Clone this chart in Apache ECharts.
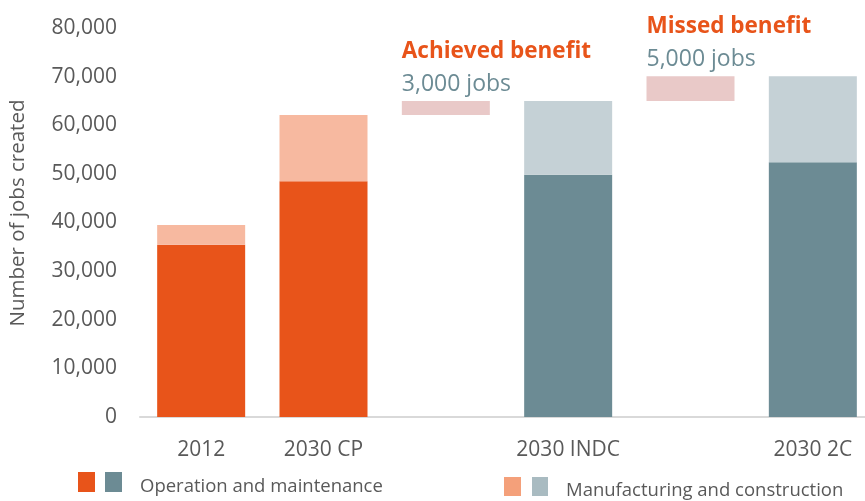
<!DOCTYPE html>
<html>
<head>
<meta charset="utf-8">
<script src="https://cdn.jsdelivr.net/npm/echarts@6/dist/echarts.min.js"></script>
<style>
  html, body { margin: 0; padding: 0; background: #fff; }
  #main { width: 865px; height: 501px; }
</style>
</head>
<body>
<div id="main"></div>
<script>
// categories (empty slots hold the benefit bars)
var categories = ['2012', '2030 CP', '', '2030 INDC', '', '2030 2C'];
// operation and maintenance jobs
var opValues = [35400, 48500, null, 49800, null, 52400];
// manufacturing and construction jobs
var mcValues = [4100, 13600, null, 15200, null, 17700];
// floating benefit bars: invisible base + visible part
var benefitBase = [null, null, 62100, null, 65000, null];
var benefitValues = [null, null, 2900, null, 5100, null];
var benefitTitles = ['', '', 'Achieved benefit', '', 'Missed benefit', ''];
var benefitJobs = ['', '', '3,000 jobs', '', '5,000 jobs', ''];
var yTicks = [0, 10000, 20000, 30000, 40000, 50000, 60000, 70000, 80000];

var FONT = '"Open Sans", sans-serif';
var orange = '#E8541A', orangeLight = '#F7B9A0';
var teal = '#6C8B94', tealLight = '#C5D1D6';

var myChart = echarts.init(document.getElementById('main'));

function colored(vals, c1, c2) {
    return vals.map(function (v, i) {
        return { value: v, itemStyle: { color: i < 2 ? c1 : c2 } };
    });
}

var option = {
    backgroundColor: '#fff',
    animation: false,
    grid: { left: 140, width: 734, top: 28, bottom: 84, outerBoundsMode: 'none', containLabel: false },
    xAxis: {
        type: 'category',
        data: categories,
        axisLine: { lineStyle: { color: '#d9d9d9', width: 2 } },
        axisTick: { show: false },
        axisLabel: { interval: 0, color: '#595959', fontSize: 21, fontFamily: FONT, margin: 23 }
    },
    yAxis: {
        type: 'value',
        min: yTicks[0],
        max: yTicks[yTicks.length - 1],
        interval: 10000,
        name: 'Number of jobs created',
        nameLocation: 'middle',
        nameGap: 111,
        nameTextStyle: { color: '#595959', fontSize: 20.5, fontFamily: FONT, padding: [0, 0, 0, 19] },
        splitLine: { show: false },
        axisLine: { show: false },
        axisTick: { show: false },
        axisLabel: {
            color: '#595959', fontSize: 21, fontFamily: FONT, margin: 23,
            formatter: function (v) { return v.toLocaleString('en-US'); }
        }
    },
    series: [
        {
            name: 'Operation and maintenance', type: 'bar', stack: 'total',
            barWidth: 88, data: colored(opValues, orange, teal)
        },
        {
            name: 'Manufacturing and construction', type: 'bar', stack: 'total',
            data: colored(mcValues, orangeLight, tealLight)
        },
        {
            name: 'base', type: 'bar', stack: 'total',
            itemStyle: { color: 'transparent' }, data: benefitBase
        },
        {
            name: 'benefit', type: 'bar', stack: 'total',
            itemStyle: { color: '#E9C9C8' },
            data: benefitValues,
            label: {
                show: true,
                position: [0, 0],
                align: 'left',
                verticalAlign: 'bottom',
                formatter: function (p) {
                    return '{t|' + benefitTitles[p.dataIndex] + '}\n{j|' + benefitJobs[p.dataIndex] + '}';
                },
                rich: {
                    t: { color: orange, fontSize: 22.5, fontWeight: 'bold', fontFamily: FONT, lineHeight: 33 },
                    j: { color: teal, fontSize: 23, fontFamily: FONT, lineHeight: 33 }
                }
            }
        }
    ],
    graphic: [
        { type: 'rect', left: 78, top: 472, shape: { width: 17, height: 20 }, style: { fill: orange } },
        { type: 'rect', left: 105, top: 472, shape: { width: 17, height: 20 }, style: { fill: teal } },
        { type: 'text', left: 140, top: 477, style: { text: 'Operation and maintenance', fill: '#595959', fontSize: 18.5, fontFamily: FONT } },
        { type: 'rect', left: 504, top: 477, shape: { width: 17, height: 19 }, style: { fill: '#F4A07A' } },
        { type: 'rect', left: 532, top: 477, shape: { width: 16, height: 19 }, style: { fill: '#A9BBC1' } },
        { type: 'text', left: 566, top: 481, style: { text: 'Manufacturing and construction', fill: '#595959', fontSize: 18.5, fontFamily: FONT } }
    ]
};

myChart.setOption(option);
window.addEventListener('resize', function () {
    myChart.resize();
});
</script>
</body>
</html>
